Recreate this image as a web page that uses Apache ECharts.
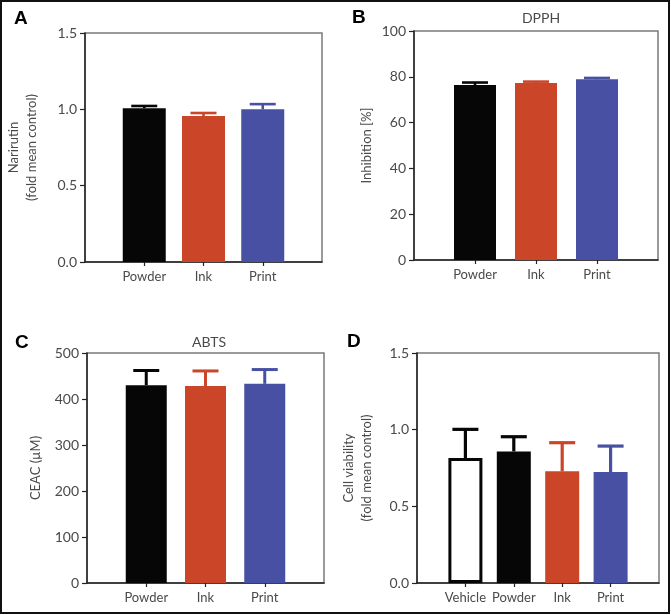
<!DOCTYPE html>
<html>
<head>
<meta charset="utf-8">
<script src="https://cdn.jsdelivr.net/npm/echarts@6/dist/echarts.min.js"></script>
<style>
html,body{margin:0;padding:0;background:#fff;}
#c{width:671px;height:615px;}
</style>
</head>
<body>
<div id="c"></div>
<script>
// ---- data ----
var catsABC = ['Powder', 'Ink', 'Print'];
var catsD = ['Vehicle', 'Powder', 'Ink', 'Print'];

var narirutinMean = [1.007, 0.956, 1.000];
var narirutinUpper = [1.022, 0.976, 1.034];

var dpphMean = [76.4, 77.3, 78.9];
var dpphUpper = [77.5, 77.9, 79.5];

var abtsMean = [430, 428, 433];
var abtsUpper = [462, 461, 464];

var viabMean = [0.815, 0.858, 0.728, 0.724];
var viabUpper = [1.002, 0.954, 0.915, 0.893];

var yTicksA = [0, 0.5, 1.0, 1.5];
var yTicksB = [0, 20, 40, 60, 80, 100];
var yTicksC = [0, 100, 200, 300, 400, 500];
var yTicksD = [0, 0.5, 1.0, 1.5];

// ---- styles ----
var BLACK = '#060606', RED = '#CB4528', BLUE = '#4750A3';
var colorsABC = [BLACK, RED, BLUE];
var FONT = 'Lato';
var TXT = '#4a4a4a';

function padCats(c) { return [''].concat(c).concat(['']); }

var grids = [
  {left: 85, top: 33, width: 237, height: 229},
  {left: 414, top: 31, width: 244, height: 229},
  {left: 87, top: 353, width: 237, height: 230},
  {left: 417, top: 353, width: 242, height: 230}
];
grids.forEach(function (g) { g.show = true; g.borderColor = '#7a7a7a'; g.borderWidth = 1.5; g.backgroundColor = 'transparent'; g.containLabel = false; });

function xAxis(idx, cats) {
  return {
    type: 'category', gridIndex: idx, data: padCats(cats), boundaryGap: false,
    axisLine: {lineStyle: {color: '#222', width: 1.5}},
    axisTick: {length: 4, lineStyle: {color: '#222', width: 1.2}, interval: function (i, v) { return v !== ''; }},
    axisLabel: {color: TXT, fontFamily: FONT, fontSize: 13, margin: 8, interval: 0},
    splitLine: {show: false}
  };
}
function yAxis(idx, ticks, name, gap, fmt) {
  return {
    type: 'value', gridIndex: idx, min: ticks[0], max: ticks[ticks.length - 1],
    interval: ticks[1] - ticks[0],
    name: name, nameLocation: 'middle', nameGap: gap,
    nameTextStyle: {color: TXT, fontFamily: FONT, fontSize: 13, lineHeight: 18},
    axisLine: {show: true, lineStyle: {color: '#222', width: 1.5}},
    axisTick: {show: true, length: 5, lineStyle: {color: '#222', width: 1.2}},
    axisLabel: {color: TXT, fontFamily: FONT, fontSize: 14, margin: 8, formatter: fmt},
    splitLine: {show: false}
  };
}
function fmt1(v) { return v.toFixed(1); }
function fmt0(v) { return String(v); }

function barData(means, colors, special) {
  var d = ['-'];
  means.forEach(function (m, i) {
    var it = {value: m, itemStyle: {color: colors[i]}};
    if (special && special[i]) it.itemStyle = special[i];
    d.push(it);
  });
  d.push('-');
  return d;
}
function errData(means, upper) {
  return means.map(function (m, i) { return [i + 1, m, upper[i]]; });
}
function errSeries(idx, means, upper, colors, lw) {
  return {
    type: 'custom', xAxisIndex: idx, yAxisIndex: idx, z: 1,
    data: errData(means, upper),
    encode: {x: 0, y: [1, 2]},
    renderItem: function (params, api) {
      var x = api.value(0);
      var p0 = api.coord([x, api.value(1)]);
      var p1 = api.coord([x, api.value(2)]);
      var c = colors[params.dataIndex];
      var half = 13;
      return {
        type: 'group',
        children: [
          {type: 'line', shape: {x1: p0[0], y1: p0[1], x2: p1[0], y2: p1[1]}, style: {stroke: c, lineWidth: lw}},
          {type: 'line', shape: {x1: p1[0] - half, y1: p1[1], x2: p1[0] + half, y2: p1[1]}, style: {stroke: c, lineWidth: lw}}
        ]
      };
    }
  };
}
function barSeries(idx, data, w) {
  return {type: 'bar', xAxisIndex: idx, yAxisIndex: idx, data: data, barWidth: w, z: 2};
}

var colorsD = ['#fff', BLACK, RED, BLUE];
var errColorsD = [BLACK, BLACK, RED, BLUE];

var option = {
  animation: false,
  backgroundColor: '#fff',
  grid: grids,
  xAxis: [xAxis(0, catsABC), xAxis(1, catsABC), xAxis(2, catsABC), xAxis(3, catsD)],
  yAxis: [
    yAxis(0, yTicksA, 'Narirutin\n(fold mean control)', 44, fmt1),
    yAxis(1, yTicksB, 'Inhibition [%]', 38, fmt0),
    yAxis(2, yTicksC, 'CEAC (\u00b5M)', 42, fmt0),
    yAxis(3, yTicksD, 'Cell viability\n(fold mean control)', 41, fmt1)
  ],
  title: [
    {text: 'DPPH', left: 536, top: 6, textAlign: 'center', textStyle: {color: TXT, fontFamily: FONT, fontSize: 14, fontWeight: 'normal'}},
    {text: 'ABTS', left: 204, top: 330, textAlign: 'center', textStyle: {color: TXT, fontFamily: FONT, fontSize: 14, fontWeight: 'normal'}}
  ],
  graphic: [
    {type: 'rect', shape: {x: 1, y: 1, width: 668, height: 612}, style: {fill: 'none', stroke: '#111', lineWidth: 2}, silent: true},
    {type: 'text', left: 14, top: 9, style: {text: 'A', font: 'bold 19px "Liberation Sans"', fill: '#000'}},
    {type: 'text', left: 352, top: 8, style: {text: 'B', font: 'bold 19px "Liberation Sans"', fill: '#000'}},
    {type: 'text', left: 15, top: 333, style: {text: 'C', font: 'bold 19px "Liberation Sans"', fill: '#000'}},
    {type: 'text', left: 347, top: 332, style: {text: 'D', font: 'bold 19px "Liberation Sans"', fill: '#000'}}
  ],
  series: [
    errSeries(0, narirutinMean, narirutinUpper, colorsABC, 2.6),
    barSeries(0, barData(narirutinMean, colorsABC), 43),
    errSeries(1, dpphMean, dpphUpper, colorsABC, 2.6),
    barSeries(1, barData(dpphMean, colorsABC), 42),
    errSeries(2, abtsMean, abtsUpper, colorsABC, 3),
    barSeries(2, barData(abtsMean, colorsABC), 41),
    errSeries(3, viabMean, viabUpper, errColorsD, 3.2),
    barSeries(3, barData(viabMean, colorsD, [{color: '#fff', borderColor: BLACK, borderWidth: 3}, null, null, null]), 34)
  ]
};
var chart = echarts.init(document.getElementById('c'), null, {renderer: 'canvas'});
chart.setOption(option);
</script>
</body>
</html>
